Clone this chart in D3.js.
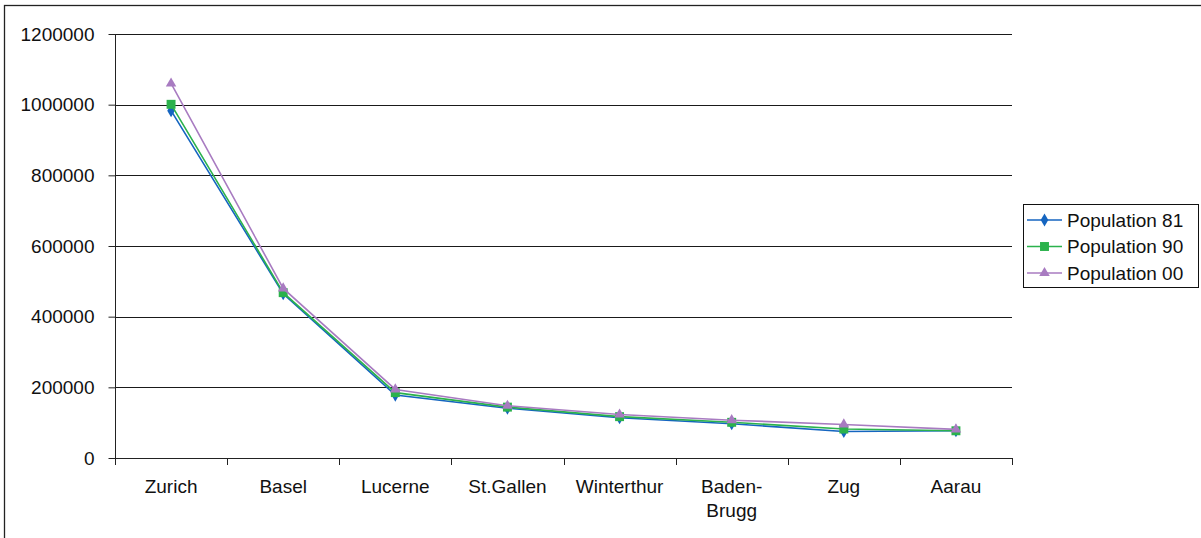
<!DOCTYPE html>
<html>
<head>
<meta charset="utf-8">
<script src="https://cdn.jsdelivr.net/npm/d3@7"></script>
<style>
  body { margin: 0; background: #fff; }
  svg { display: block; font-family: "Liberation Sans", Arial, sans-serif; }
</style>
</head>
<body>
<script>
// data
const cities = ["Zurich", "Basel", "Lucerne", "St.Gallen", "Winterthur", "Baden-\nBrugg", "Zug", "Aarau"];
const pop81 = [983000, 465000, 178000, 141000, 114000, 97000, 75000, 77000];
const pop90 = [1001000, 468000, 185000, 144000, 117000, 101000, 82000, 77000];
const pop00 = [1060000, 480000, 194000, 148000, 123000, 107000, 95000, 81000];
const seriesNames = ["Population 81", "Population 90", "Population 00"];
const yTicks = [0, 200000, 400000, 600000, 800000, 1000000, 1200000];

const series = [
    {name: seriesNames[0], values: pop81, color: "#1565c0", symbol: d3.symbolDiamond, size: 50},
    {name: seriesNames[1], values: pop90, color: "#2bb24c", symbol: d3.symbolSquare, size: 80},
    {name: seriesNames[2], values: pop00, color: "#a87bc1", symbol: d3.symbolTriangle, size: 48}
];

const width = 1201, height = 538;
const plot = {left: 115, right: 1012, top: 34, bottom: 458};

const svg = d3.select("body").append("svg")
    .attr("width", width)
    .attr("height", height);

// outer chart border (right/bottom edges fall outside the picture)
svg.append("rect")
    .attr("x", 4.5).attr("y", 5.5)
    .attr("width", width + 10).attr("height", height + 10)
    .attr("fill", "none").attr("stroke", "#222").attr("stroke-width", 1.3);

const x = d3.scaleBand()
    .domain(cities)
    .range([plot.left, plot.right])
    .padding(0);

const y = d3.scaleLinear()
    .domain([0, 1200000])
    .range([plot.bottom, plot.top]);

// gridlines
svg.append("g")
    .selectAll("line")
    .data(yTicks.filter(d => d > 0))
    .enter().append("line")
    .attr("x1", plot.left).attr("x2", plot.right)
    .attr("y1", d => Math.round(y(d)) + 0.5)
    .attr("y2", d => Math.round(y(d)) + 0.5)
    .attr("stroke", "#1a1a1a").attr("stroke-width", 1);

// y axis
const yAxis = svg.append("g")
    .attr("transform", `translate(${plot.left + 0.5},0)`)
    .call(d3.axisLeft(y).tickValues(yTicks).tickSize(7).tickPadding(14).tickFormat(d3.format("d")));
yAxis.selectAll("path, line").attr("stroke", "#222");
yAxis.selectAll("text")
    .attr("font-size", "19px")
    .attr("font-family", "Liberation Sans, Arial, sans-serif")
    .attr("fill", "#111");
yAxis.select(".domain").attr("d", `M0,${plot.top}V${plot.bottom}`);

// x axis line and category boundary ticks
const xAxis = svg.append("g");
xAxis.append("line")
    .attr("x1", plot.left).attr("x2", plot.right)
    .attr("y1", plot.bottom + 0.5).attr("y2", plot.bottom + 0.5)
    .attr("stroke", "#222");
const bounds = cities.map(c => x(c)).concat([plot.right]);
xAxis.selectAll(".tick")
    .data(bounds)
    .enter().append("line")
    .attr("x1", d => Math.round(d) + 0.5).attr("x2", d => Math.round(d) + 0.5)
    .attr("y1", plot.bottom).attr("y2", plot.bottom + 7)
    .attr("stroke", "#222");

// category labels
const labels = xAxis.selectAll(".lbl")
    .data(cities)
    .enter().append("text")
    .attr("class", "lbl")
    .attr("text-anchor", "middle")
    .attr("font-size", "19px")
    .attr("fill", "#111")
    .attr("transform", d => `translate(${x(d) + x.bandwidth() / 2},${plot.bottom + 35})`);
labels.each(function (d) {
    const parts = d.split("\n");
    d3.select(this).selectAll("tspan")
        .data(parts)
        .enter().append("tspan")
        .attr("x", 0)
        .attr("dy", (p, i) => i === 0 ? 0 : 24)
        .text(p => p);
});

// lines and markers
const line = d3.line()
    .x((d, i) => x(cities[i]) + x.bandwidth() / 2)
    .y(d => y(d));

series.forEach(s => {
    svg.append("path")
        .datum(s.values)
        .attr("d", line)
        .attr("fill", "none")
        .attr("stroke", s.color)
        .attr("stroke-width", 1.6);

    svg.append("g")
        .selectAll("path")
        .data(s.values)
        .enter().append("path")
        .attr("d", d3.symbol().type(s.symbol).size(s.size))
        .attr("transform", (d, i) => `translate(${x(cities[i]) + x.bandwidth() / 2},${y(d)})`)
        .attr("fill", s.color);
});

// legend
const legend = svg.append("g");
legend.append("rect")
    .attr("x", 1023.5).attr("y", 204.5)
    .attr("width", 175).attr("height", 83)
    .attr("fill", "#fff").attr("stroke", "#111");

const items = legend.selectAll(".item")
    .data(series)
    .enter().append("g")
    .attr("class", "item")
    .attr("transform", (d, i) => `translate(1027,${220 + i * 26.5})`);
items.append("line")
    .attr("x1", 0).attr("x2", 35)
    .attr("stroke", d => d.color).attr("stroke-width", 1.6);
items.append("path")
    .attr("d", d => d3.symbol().type(d.symbol).size(d.size)())
    .attr("transform", "translate(17.5,0)")
    .attr("fill", d => d.color);
items.append("text")
    .attr("x", 40)
    .attr("dy", "0.35em")
    .attr("font-size", "19px")
    .attr("fill", "#111")
    .text(d => d.name);
</script>
</body>
</html>
